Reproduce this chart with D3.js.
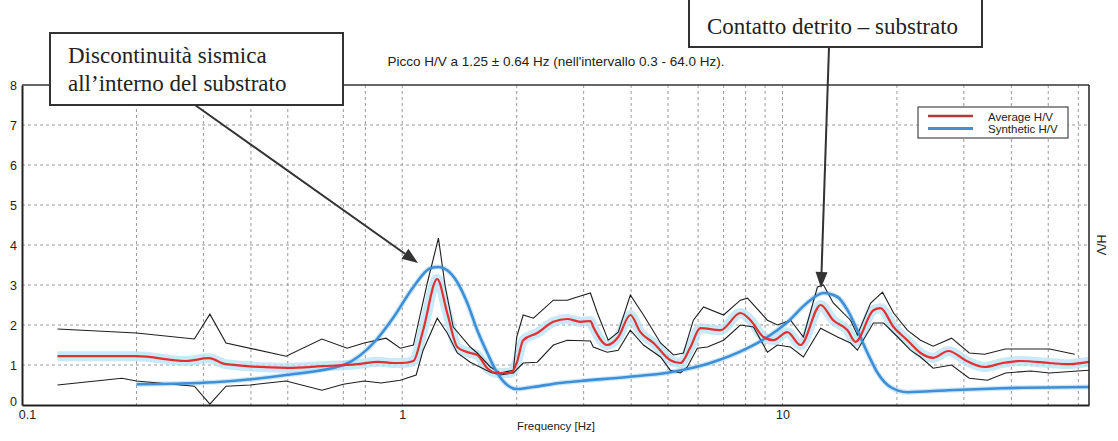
<!DOCTYPE html>
<html><head><meta charset="utf-8">
<script src="https://cdn.jsdelivr.net/npm/d3@7"></script>
<style>body{margin:0;background:#fff}svg{display:block}</style>
</head><body>
<svg id="c" width="1118" height="441"></svg>
<script>
// ---- data (frequency in Hz, H/V ratio) ----
const avgFreq = [0.124,0.2,0.27,0.31,0.344,0.5,0.615,0.762,0.865,0.947,1.0,1.07,1.135,1.236,1.313,1.396,1.51,1.575,1.674,1.778,1.923,2.0,2.08,2.265,2.497,2.716,2.94,3.125,3.18,3.46,3.70,3.98,4.23,4.58,5.07,5.39,5.73,6.08,6.87,7.75,8.24,8.91,9.47,10.3,11.15,12.6,13.6,14.83,15.56,17.34,18.1,19.6,21.3,23.07,24.9,27.3,30.5,34.0,37.9,42.3,50.4,56.2,64];
const avgHV   = [1.22,1.22,1.1,1.17,1.02,0.93,0.97,1.02,1.08,1.05,1.05,1.1,1.87,3.15,2.3,1.45,1.3,1.25,0.92,0.8,0.8,1.05,1.62,1.8,2.08,2.15,2.08,2.1,1.95,1.5,1.7,2.25,1.82,1.55,1.12,1.05,1.45,1.92,1.87,2.3,2.12,1.7,1.62,1.82,1.5,2.5,2.12,1.87,1.58,2.37,2.42,1.95,1.62,1.3,1.18,1.35,1.1,0.95,1.05,1.1,1.05,1.02,1.08];

const upFreq = [0.124,0.2,0.284,0.312,0.344,0.495,0.615,0.716,0.794,0.907,0.988,1.07,1.164,1.245,1.298,1.362,1.51,1.575,1.705,1.81,1.96,2.0,2.08,2.213,2.497,2.716,2.818,3.125,3.26,3.48,3.70,3.98,4.31,4.78,5.17,5.49,5.83,6.2,7.0,7.75,8.09,9.13,9.7,10.5,11.35,12.36,12.82,13.6,15.1,15.74,17.06,18.33,19.6,21.3,23.07,24.9,27.85,31.0,34.0,38.6,50.4,58.7];
const upHV   = [1.9,1.8,1.65,2.27,1.55,1.22,1.65,1.42,1.55,1.67,1.42,1.5,3.05,4.17,2.95,1.95,1.45,1.3,0.95,0.8,0.87,1.7,2.25,2.17,2.62,2.62,2.67,2.8,2.3,1.62,1.82,2.75,2.25,1.55,1.25,1.3,2.12,2.45,2.25,2.62,2.67,2.12,2.0,2.12,1.7,2.95,3.0,2.55,2.12,1.75,2.55,2.82,2.3,1.87,1.62,1.47,1.67,1.3,1.27,1.4,1.4,1.27];

const lowFreq = [0.124,0.183,0.2,0.284,0.312,0.344,0.398,0.495,0.615,0.7,0.794,0.88,0.988,1.088,1.135,1.236,1.313,1.396,1.51,1.705,1.81,1.96,2.08,2.265,2.497,2.716,3.125,3.18,3.46,3.70,3.98,4.31,4.78,5.07,5.39,5.62,5.97,6.35,7.0,7.75,8.39,9.13,9.7,10.5,11.35,12.6,13.96,15.1,15.74,17.34,18.45,20.1,21.7,23.07,24.9,27.85,31.0,34.6,38.6,45.0,50.4,59.7,64];
const lowHV   = [0.5,0.67,0.6,0.47,0.02,0.47,0.5,0.6,0.37,0.52,0.6,0.55,0.62,0.75,1.37,2.17,1.8,1.3,1.07,0.82,0.75,0.8,1.05,1.07,1.5,1.62,1.6,1.45,1.32,1.37,1.87,1.5,1.2,0.87,0.8,0.95,1.42,1.45,1.62,2.0,1.95,1.32,1.5,1.45,1.2,1.92,1.7,1.55,1.37,2.05,2.05,1.7,1.37,1.2,0.92,1.0,0.67,0.62,0.8,0.85,0.8,0.85,0.87];

const synFreq = [0.2,0.32,0.495,0.7,0.85,0.95,1.07,1.185,1.245,1.313,1.396,1.483,1.575,1.674,1.778,1.889,2.0,2.213,2.6,2.94,3.91,5.07,6.46,8.09,9.13,10.3,11.6,12.82,13.96,14.83,15.74,16.74,17.8,19.23,21.3,27.3,37.9,64];
const synHV   = [0.52,0.57,0.75,1.0,1.6,2.2,2.95,3.42,3.45,3.37,3.07,2.55,1.87,1.3,0.8,0.5,0.4,0.45,0.55,0.6,0.7,0.82,1.05,1.42,1.7,2.07,2.55,2.8,2.7,2.37,1.87,1.3,0.8,0.45,0.32,0.37,0.42,0.45];

const yTicks = [0,1,2,3,4,5,6,7,8];
const xTickLabels = [0.1, 1, 10];
const xGrid = [0.2,0.3,0.4,0.5,0.7,0.8,1,2,3,4,5,6,7,8,9,10,20,30,40,50,60];
const yGrid = [1,2,3,4,5,6,7];

const titleText = "Picco H/V a 1.25 \u00B1 0.64 Hz (nell'intervallo 0.3 - 64.0 Hz).";
const xLabel = "Frequency [Hz]";
const yLabel = "H/V";
const legendLabels = ["Average H/V", "Synthetic H/V"];
const note1 = ["Discontinuit\u00E0 sismica", "all\u2019interno del substrato"];
const note2 = "Contatto detrito \u2013 substrato";

// ---- drawing ----
const svg = d3.select("#c");
svg.append("rect").attr("width",1118).attr("height",441).attr("fill","#fff");
const x = d3.scaleLog().domain([0.1, 64]).range([22, 1089]);
const y = d3.scaleLinear().domain([0, 8]).range([405, 85]);
const sans = "'Liberation Sans', Arial, sans-serif";
const serif = "'Liberation Serif', 'Times New Roman', serif";

// grid
const grid = svg.append("g").attr("stroke","#9a9a9a").attr("stroke-width",1).attr("stroke-dasharray","3,3");
grid.selectAll("line.v").data(xGrid).join("line")
  .attr("x1",d=>x(d)).attr("x2",d=>x(d)).attr("y1",y(8)).attr("y2",y(0));
grid.selectAll("line.h").data(yGrid).join("line")
  .attr("x1",x(0.1)).attr("x2",x(64)).attr("y1",d=>y(d)).attr("y2",d=>y(d));

const zip = (f,v)=>f.map((d,i)=>[d,v[i]]);
const lin = d3.line().x(d=>x(d[0])).y(d=>y(d[1]));
const smooth = d3.line().x(d=>x(d[0])).y(d=>y(d[1])).curve(d3.curveMonotoneX);

// halos (cloud of windows)
svg.append("path").datum(zip(avgFreq,avgHV)).attr("d",smooth)
  .attr("fill","none").attr("stroke","#b5e2f6").attr("stroke-width",10).attr("stroke-opacity",0.75).attr("stroke-linejoin","round");
svg.append("path").datum(zip(synFreq,synHV)).attr("d",smooth)
  .attr("fill","none").attr("stroke","#a6d3f2").attr("stroke-width",5).attr("stroke-opacity",0.55);

// std lines
[[upFreq,upHV],[lowFreq,lowHV]].forEach(([f,v])=>{
  svg.append("path").datum(zip(f,v)).attr("d",lin)
    .attr("fill","none").attr("stroke","#1e1e1e").attr("stroke-width",1.1);
});
// synthetic
svg.append("path").datum(zip(synFreq,synHV)).attr("d",smooth)
  .attr("fill","none").attr("stroke","#3d8fd8").attr("stroke-width",2.6);
// average
svg.append("path").datum(zip(avgFreq,avgHV)).attr("d",smooth)
  .attr("fill","none").attr("stroke","#e3302f").attr("stroke-width",2.2);

// axes
const ax = svg.append("g").attr("transform","translate(22,0)")
  .call(d3.axisLeft(y).tickValues(yTicks).tickSize(0).tickPadding(5).tickFormat(d3.format("d")));
ax.selectAll(".tick").filter(d=>d===0).select("text").attr("dy","0.05em");
const bx = svg.append("g").attr("transform","translate(0,405)")
  .call(d3.axisBottom(x).tickValues(xTickLabels).tickSize(0).tickPadding(5).tickFormat(d=>String(d)));
bx.selectAll(".tick").filter(d=>d===0.1).select("text").attr("dx","5");
[ax,bx].forEach(g=>{
  g.select(".domain").attr("stroke","#222").attr("stroke-width",2);
  g.selectAll("text").attr("font-family",sans).attr("font-size",12.5).attr("fill","#222");
});
// frame top/right
svg.append("line").attr("x1",x(0.1)).attr("x2",x(64)).attr("y1",y(8)).attr("y2",y(8)).attr("stroke","#333").attr("stroke-width",1.5);
svg.append("line").attr("x1",x(64)).attr("x2",x(64)).attr("y1",y(8)).attr("y2",y(0)).attr("stroke","#222").attr("stroke-width",1.5);

// titles
svg.append("text").attr("x",556).attr("y",66).attr("text-anchor","middle")
  .attr("font-family",sans).attr("font-size",13.5).attr("fill","#222").text(titleText);
svg.append("text").attr("x",556).attr("y",430).attr("text-anchor","middle")
  .attr("font-family",sans).attr("font-size",11.5).attr("fill","#222").text(xLabel);
svg.append("text").attr("transform","translate(1097,245) rotate(90)").attr("text-anchor","middle")
  .attr("font-family",sans).attr("font-size",12.5).attr("fill","#222").text(yLabel);

// legend
const lg = svg.append("g").attr("transform","translate(918,107)");
lg.append("rect").attr("width",150).attr("height",31).attr("fill","#fff").attr("stroke","#222").attr("stroke-width",1);
const lgColors = ["#b03a36","#3d8fd8"];
legendLabels.forEach((t,i)=>{
  lg.append("line").attr("x1",10).attr("x2",55).attr("y1",9+i*12.5).attr("y2",9+i*12.5)
    .attr("stroke",lgColors[i]).attr("stroke-width",i?3:2.5);
  lg.append("text").attr("x",70).attr("y",13.5+i*12.5).attr("font-family",sans).attr("font-size",11.5)
    .attr("fill","#222").text(t);
});

// annotations
function arrow(x1,y1,x2,y2){
  const a = Math.atan2(y2-y1,x2-x1), L=16, W=6;
  const bxp = x2 - L*Math.cos(a), byp = y2 - L*Math.sin(a);
  svg.append("line").attr("x1",x1).attr("y1",y1).attr("x2",bxp).attr("y2",byp)
    .attr("stroke","#333").attr("stroke-width",2);
  svg.append("path").attr("d",`M${x2},${y2}L${bxp+W*Math.sin(a)},${byp-W*Math.cos(a)}L${bxp-W*Math.sin(a)},${byp+W*Math.cos(a)}Z`)
    .attr("fill","#333");
}
arrow(195,105,418,263);
arrow(829,47,821,288);

svg.append("rect").attr("x",50).attr("y",33).attr("width",293).attr("height",72)
  .attr("fill","#fff").attr("stroke","#333").attr("stroke-width",2);
note1.forEach((t,i)=>svg.append("text").attr("x",68).attr("y",63+i*28)
  .attr("font-family",serif).attr("font-size",23).attr("fill","#222").text(t));
svg.append("rect").attr("x",689).attr("y",-3).attr("width",293).attr("height",50)
  .attr("fill","#fff").attr("stroke","#333").attr("stroke-width",2);
svg.append("text").attr("x",707).attr("y",34).attr("font-family",serif).attr("font-size",23)
  .attr("fill","#222").text(note2);
</script>
</body></html>
